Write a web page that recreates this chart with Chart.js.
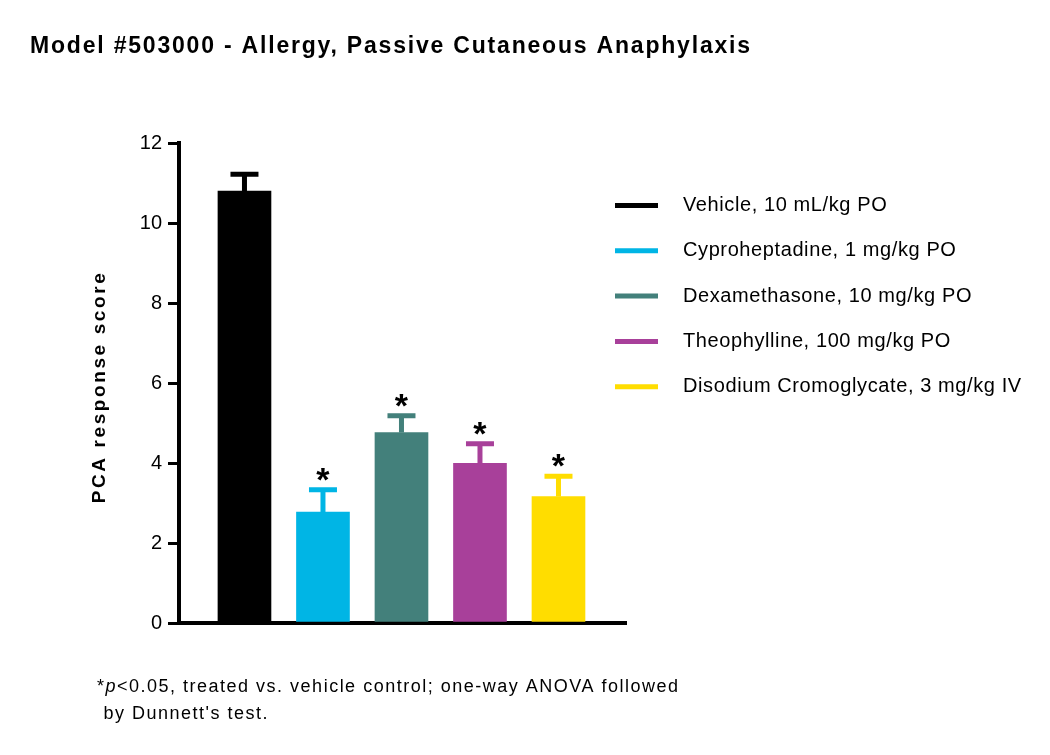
<!DOCTYPE html>
<html lang="en">
<head>
<meta charset="UTF-8">
<title>Model #503000 - Allergy, Passive Cutaneous Anaphylaxis</title>
<style>
  html, body { margin: 0; padding: 0; background: #fff; }
  #wrap { width: 1050px; height: 755px; position: relative; }
</style>
</head>
<body>
<div id="wrap"><canvas id="pca-chart"></canvas></div>
<script src="https://cdn.jsdelivr.net/npm/chart.js"></script>
<script>
// groups, mean score and error
const groups = [
  'Vehicle, 10 mL/kg PO',
  'Cyproheptadine, 1 mg/kg PO',
  'Dexamethasone, 10 mg/kg PO',
  'Theophylline, 100 mg/kg PO',
  'Disodium Cromoglycate, 3 mg/kg IV'
];
const means = [10.8, 2.77, 4.76, 3.99, 3.16];
const errors = [0.42, 0.56, 0.42, 0.49, 0.51];
const significant = [false, true, true, true, true];
const colors = ['#000000', '#00b5e5', '#43807b', '#a8409a', '#ffdd00'];
const yTicks = [0, 2, 4, 6, 8, 10, 12];
const chartTitle = 'Model #503000 - Allergy, Passive Cutaneous Anaphylaxis';
const yTitle = 'PCA response score';
const footnote = ["<0.05, treated vs. vehicle control; one-way ANOVA followed", " by Dunnett's test."];

const FONT = "'Liberation Sans', Arial, Helvetica, sans-serif";

// error bars + significance stars, drawn from the chart's own scales
const errorBars = {
  id: 'errorBars',
  afterDatasetsDraw(chart) {
    const ctx = chart.ctx;
    const xs = chart.scales.x, ys = chart.scales.y;
    ctx.save();
    means.forEach((m, i) => {
      const x = xs.getPixelForValue(i);
      const yBase = ys.getPixelForValue(m);
      const yTop = ys.getPixelForValue(m + errors[i]);
      ctx.strokeStyle = colors[i];
      ctx.lineWidth = 5;
      ctx.beginPath();
      ctx.moveTo(x, yBase);
      ctx.lineTo(x, yTop);
      ctx.moveTo(x - 14, yTop);
      ctx.lineTo(x + 14, yTop);
      ctx.stroke();
      if (significant[i]) {
        ctx.fillStyle = '#000';
        ctx.font = 'bold 34px ' + FONT;
        ctx.textAlign = 'center';
        ctx.textBaseline = 'alphabetic';
        ctx.fillText('*', x, yTop + 1);
      }
    });
    ctx.restore();
  }
};

// titles, legend on the right and footnote below
const sideText = {
  id: 'sideText',
  afterDraw(chart) {
    const ctx = chart.ctx;
    ctx.save();
    ctx.fillStyle = '#000';
    ctx.textAlign = 'left';
    ctx.textBaseline = 'alphabetic';

    // chart title
    ctx.letterSpacing = '1.8px';
    ctx.font = 'bold 23px ' + FONT;
    ctx.fillText(chartTitle, 30, 53);

    // y axis title
    ctx.save();
    ctx.letterSpacing = '2.6px';
    ctx.font = 'bold 19px ' + FONT;
    ctx.translate(105, 387);
    ctx.rotate(-Math.PI / 2);
    ctx.textAlign = 'center';
    ctx.fillText(yTitle, 0, 0);
    ctx.restore();

    // legend
    ctx.textBaseline = 'middle';
    ctx.letterSpacing = '0.6px';
    groups.forEach((g, i) => {
      const y = 205.5 + i * 45.3;
      ctx.strokeStyle = colors[i];
      ctx.lineWidth = 5;
      ctx.beginPath();
      ctx.moveTo(615, y);
      ctx.lineTo(658, y);
      ctx.stroke();
      ctx.font = '20px ' + FONT;
      ctx.fillText(g, 683, y);
    });

    // footnote
    ctx.letterSpacing = '1.5px';
    ctx.font = '18px ' + FONT;
    ctx.fillText('*', 97, 687);
    let x = 97 + ctx.measureText('*').width;
    ctx.font = 'italic 18px ' + FONT;
    ctx.fillText('p', x, 687);
    x += ctx.measureText('p').width;
    ctx.font = '18px ' + FONT;
    ctx.fillText(footnote[0], x, 687);
    ctx.fillText(footnote[1], 97, 714);
    ctx.restore();
  }
};

new Chart(document.getElementById('pca-chart'), {
  type: 'bar',
  data: {
    datasets: [{
      label: yTitle,
      data: means.map((v, i) => ({ x: i, y: v })),
      backgroundColor: colors,
      borderWidth: 0,
      barThickness: 53
    }]
  },
  options: {
    responsive: true,
    maintainAspectRatio: false,
    animation: false,
    layout: { padding: { left: 30, right: 424, top: 143, bottom: 132 } },
    plugins: {
      legend: { display: false },
      tooltip: { enabled: false },
      title: { display: false }
    },
    scales: {
      x: {
        type: 'linear',
        offset: false,
        min: -0.834,
        max: 4.86,
        ticks: { display: false },
        grid: { display: false },
        border: { display: true, color: '#000', width: 4 },
        afterFit(scale) { scale.height = 0; }
      },
      y: {
        min: 0,
        max: 12,
        afterBuildTicks(scale) { scale.ticks = yTicks.map(v => ({ value: v })); },
        ticks: { color: '#000', font: { family: FONT, size: 20 }, padding: 6 },
        grid: { drawOnChartArea: false, drawTicks: true, tickLength: 11, lineWidth: 3, color: '#000' },
        border: { display: true, color: '#000', width: 4 },
        afterFit(scale) { scale.width = 149; }
      }
    }
  },
  plugins: [errorBars, sideText]
});
</script>
</body>
</html>
